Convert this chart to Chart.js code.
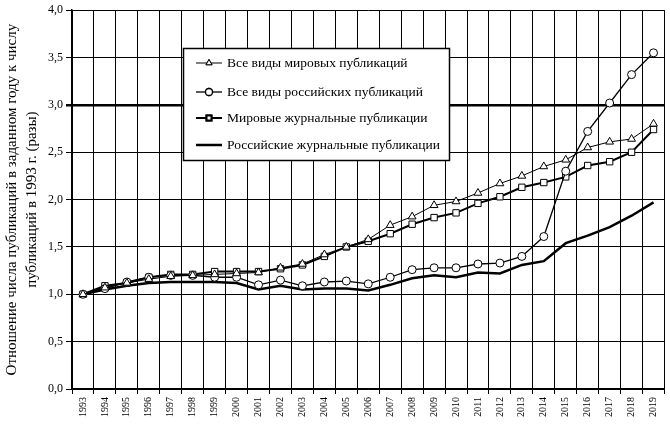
<!DOCTYPE html>
<html>
<head>
<meta charset="utf-8">
<script src="https://cdn.jsdelivr.net/npm/chart.js@4"></script>
<style>
  body { margin: 0; background: #fff; }
  #chart { display: block; }
</style>
</head>
<body>
<canvas id="chart" width="670" height="425"></canvas>
<script>
const years = ['1993', '1994', '1995', '1996', '1997', '1998', '1999', '2000', '2001', '2002',
  '2003', '2004', '2005', '2006', '2007', '2008', '2009', '2010', '2011', '2012',
  '2013', '2014', '2015', '2016', '2017', '2018', '2019'];

const worldAll = [1.00, 1.07, 1.12, 1.16, 1.19, 1.20, 1.21, 1.22, 1.23, 1.28,
  1.32, 1.42, 1.50, 1.58, 1.73, 1.82, 1.94, 1.98, 2.07, 2.17,
  2.25, 2.35, 2.42, 2.55, 2.61, 2.64, 2.80];

const russiaAll = [1.00, 1.06, 1.13, 1.18, 1.20, 1.20, 1.18, 1.18, 1.10, 1.15,
  1.09, 1.13, 1.14, 1.11, 1.18, 1.26, 1.28, 1.28, 1.32, 1.33,
  1.40, 1.61, 2.30, 2.72, 3.02, 3.32, 3.55];

const worldJournal = [1.00, 1.09, 1.12, 1.18, 1.21, 1.21, 1.24, 1.24, 1.24, 1.27,
  1.31, 1.40, 1.50, 1.56, 1.64, 1.74, 1.81, 1.86, 1.96, 2.03,
  2.13, 2.18, 2.24, 2.36, 2.40, 2.50, 2.74];

const russiaJournal = [1.00, 1.05, 1.09, 1.12, 1.13, 1.13, 1.13, 1.12, 1.05, 1.09,
  1.05, 1.06, 1.06, 1.04, 1.10, 1.17, 1.20, 1.18, 1.23, 1.22,
  1.31, 1.35, 1.54, 1.62, 1.71, 1.83, 1.97];

const seriesNames = ['Все виды мировых публикаций', 'Все виды российских публикаций',
  'Мировые журнальные публикации', 'Российские журнальные публикации'];

const yTitle = ['Отношение числа публикаций в заданном году к числу', 'публикаций в 1993 г. (разы)'];

const serif = '"Liberation Serif", "DejaVu Serif", serif';

// legend box drawn inside the plot, like the original
const boxLegend = {
  id: 'boxLegend',
  afterDatasetsDraw(chart) {
    const ctx = chart.ctx;
    const x = 183, y = 48, w = 266, h = 112;
    ctx.save();
    ctx.fillStyle = '#fff';
    ctx.fillRect(x, y, w, h);
    ctx.strokeStyle = '#000';
    ctx.lineWidth = 1.5;
    ctx.strokeRect(x + 0.5, y + 0.5, w, h);
    ctx.font = '13.5px ' + serif;
    ctx.textBaseline = 'middle';
    const rows = [63, 92, 118, 145];
    chart.data.datasets.forEach((ds, i) => {
      const ry = rows[i];
      ctx.strokeStyle = '#000';
      ctx.lineWidth = ds.borderWidth;
      ctx.beginPath();
      ctx.moveTo(196, ry);
      ctx.lineTo(222, ry);
      ctx.stroke();
      if (ds.pointStyle && ds.pointRadius > 0) {
        Chart.helpers.drawPoint(ctx, {
          pointStyle: ds.pointStyle,
          radius: 3.5,
          borderWidth: 1
        }, 209, ry);
        ctx.fillStyle = '#fff';
        ctx.fill();
        ctx.stroke();
      }
      ctx.fillStyle = '#000';
      ctx.fillText(ds.label, 227, ry);
    });
    ctx.restore();
  }
};

new Chart(document.getElementById('chart'), {
  type: 'line',
  data: {
    labels: years,
    datasets: [
      {
        label: seriesNames[0], data: worldAll,
        borderColor: '#000', borderWidth: 1,
        pointStyle: 'triangle', pointRadius: 4.5,
        pointBackgroundColor: '#fff', pointBorderColor: '#000', pointBorderWidth: 1
      },
      {
        label: seriesNames[1], data: russiaAll,
        borderColor: '#000', borderWidth: 1.3,
        pointStyle: 'circle', pointRadius: 4,
        pointBackgroundColor: '#fff', pointBorderColor: '#000', pointBorderWidth: 1
      },
      {
        label: seriesNames[2], data: worldJournal,
        borderColor: '#000', borderWidth: 2,
        pointStyle: 'rect', pointRadius: 4.5,
        pointBackgroundColor: '#fff', pointBorderColor: '#000', pointBorderWidth: 1
      },
      {
        label: seriesNames[3], data: russiaJournal,
        borderColor: '#000', borderWidth: 2.5,
        pointStyle: false, pointRadius: 0
      }
    ]
  },
  options: {
    responsive: false,
    animation: false,
    layout: { padding: { top: 6, right: 1, left: 2, bottom: 0 } },
    plugins: {
      legend: { display: false },
      tooltip: { enabled: false }
    },
    scales: {
      x: {
        offset: true,
        grid: { color: '#000', lineWidth: 1, offset: true, tickLength: 5 },
        border: { color: '#000', width: 1.5 },
        ticks: {
          color: '#000', font: { family: serif, size: 10 },
          minRotation: 90, maxRotation: 90, autoSkip: false, padding: 3
        },
        afterFit(scale) { scale.height = 36; }
      },
      y: {
        min: 0, max: 4,
        grid: {
          color: '#000', tickLength: 6,
          lineWidth: c => (c.tick && c.tick.value === 3 ? 2.5 : 1)
        },
        border: { color: '#000', width: 1.5 },
        ticks: {
          stepSize: 0.5, color: '#000', padding: 3,
          font: { family: serif, size: 12 },
          callback: v => v.toFixed(1).replace('.', ',')
        },
        title: {
          display: true, text: yTitle, color: '#000',
          font: { family: serif, size: 15, lineHeight: 1.35 }, padding: 0
        },
        afterFit(scale) { scale.width = 70; }
      }
    }
  },
  plugins: [boxLegend]
});
</script>
</body>
</html>
